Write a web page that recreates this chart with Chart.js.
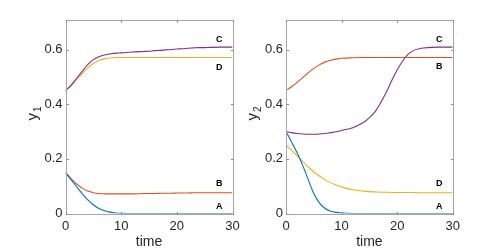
<!DOCTYPE html>
<html><head><meta charset="utf-8">
<script src="https://cdn.jsdelivr.net/npm/chart.js@4.4.0/dist/chart.umd.min.js"></script>
<style>
html,body{margin:0;padding:0;background:#fff;width:500px;height:250px;overflow:hidden}
.wrap{position:absolute;left:0;top:0;width:500px;height:250px}
</style></head>
<body>
<div class="wrap"><canvas id="c1"></canvas></div>
<div class="wrap"><canvas id="c2"></canvas></div>
<script>
// ---- data ----
const time = [0,1,2,3,4,5,6,7,8,9,10,12,14,15,16,17,18,19,20,21,22,23,24,25,26,28,30];

// panel 1 (y1)
const y1A = [0.15,0.124,0.098,0.073,0.05,0.032,0.018,0.01,0.005,0.002,0.001,0,0,0,0,0,0,0,0,0,0,0,0,0,0,0,0];
const y1B = [0.15,0.128,0.108,0.093,0.082,0.076,0.073,0.072,0.072,0.072,0.072,0.072,0.073,0.073,0.073,0.074,0.074,0.074,0.075,0.075,0.075,0.076,0.076,0.076,0.076,0.076,0.076];
const y1C = [0.45,0.47,0.495,0.52,0.545,0.563,0.574,0.58,0.584,0.587,0.588,0.591,0.593,0.594,0.596,0.597,0.599,0.6,0.602,0.603,0.605,0.606,0.607,0.607,0.608,0.609,0.609];
const y1D = [0.45,0.467,0.49,0.512,0.532,0.549,0.56,0.566,0.569,0.571,0.571,0.571,0.571,0.571,0.571,0.571,0.571,0.571,0.571,0.571,0.571,0.571,0.571,0.571,0.571,0.571,0.571];

// panel 2 (y2)
const y2A = [0.3,0.262,0.222,0.176,0.124,0.073,0.039,0.019,0.009,0.004,0.002,0,0,0,0,0,0,0,0,0,0,0,0,0,0,0,0];
const y2B = [0.45,0.464,0.48,0.497,0.515,0.531,0.544,0.554,0.561,0.565,0.568,0.57,0.571,0.571,0.571,0.571,0.571,0.571,0.571,0.571,0.571,0.571,0.571,0.571,0.571,0.571,0.571];
const y2C = [0.3,0.296,0.293,0.291,0.29,0.29,0.291,0.293,0.296,0.299,0.304,0.314,0.334,0.35,0.372,0.404,0.442,0.485,0.525,0.558,0.583,0.597,0.603,0.606,0.608,0.609,0.609];
const y2D = [0.25,0.231,0.211,0.19,0.17,0.152,0.137,0.124,0.113,0.104,0.097,0.087,0.082,0.08,0.079,0.078,0.078,0.077,0.077,0.077,0.077,0.077,0.076,0.076,0.076,0.076,0.076];

const seriesNames = ['A','B','C','D'];
const labelX = 27.6;
const labelY1 = [0.026,0.109,0.637,0.536];
const labelY2 = [0.026,0.539,0.637,0.109];

const xTicks = [0,10,20,30];
const yTicks = [0,0.2,0.4,0.6];

const colors = ['#0072BD','#D95319','#7E2F8E','#EDB120'];
const FONT = '"Liberation Sans", Arial, Helvetica, sans-serif';
const TXT = '#262626';

function pts(ys){ return time.map((t,i)=>({x:t,y:ys[i]})); }

function makeChart(id, series, labelYs, sub, padLeft, yWidth, padRight){
  const decor = {
    id:'decor',
    afterDraw(chart){
      const ctx = chart.ctx, a = chart.chartArea;
      const xs = chart.scales.x, ys = chart.scales.y;
      ctx.save();
      ctx.strokeStyle = '#a6a6a6';
      ctx.lineWidth = 1;
      const L = Math.round(a.left)+0.5, R = Math.round(a.right)+0.5, T = Math.round(a.top)+0.5, B = Math.round(a.bottom)+0.5;
      ctx.strokeRect(L, T, R-L, B-T);
      ctx.strokeStyle = '#8c8c8c';
      const tl = 2.5;
      ctx.beginPath();
      xTicks.forEach(v=>{
        const px = Math.round(xs.getPixelForValue(v))+0.5;
        ctx.moveTo(px,B); ctx.lineTo(px,B-tl);
        ctx.moveTo(px,T); ctx.lineTo(px,T+tl);
      });
      yTicks.forEach(v=>{
        const py = Math.round(ys.getPixelForValue(v))+0.5;
        ctx.moveTo(L,py); ctx.lineTo(L+tl,py);
        ctx.moveTo(R,py); ctx.lineTo(R-tl,py);
      });
      ctx.stroke();
      ctx.fillStyle = '#000';
      ctx.font = 'bold 9px ' + FONT;
      ctx.textAlign = 'center';
      ctx.textBaseline = 'middle';
      seriesNames.forEach((n,i)=>{
        ctx.fillText(n, xs.getPixelForValue(labelX), ys.getPixelForValue(labelYs[i]));
      });
      ctx.fillStyle = TXT;
      ctx.font = '14px ' + FONT;
      ctx.textBaseline = 'middle';
      ctx.fillText('time', (a.left+a.right)/2, 242);
      ctx.translate(a.left-33, (a.top+a.bottom)/2 - 3);
      ctx.rotate(-Math.PI/2);
      ctx.font = '15px ' + FONT;
      const wy = ctx.measureText('y').width;
      ctx.font = '10px ' + FONT;
      const ws = ctx.measureText(sub).width;
      const tot = wy + ws + 1;
      ctx.textAlign = 'left';
      ctx.textBaseline = 'alphabetic';
      ctx.font = '15px ' + FONT;
      ctx.fillText('y', -tot/2, 4);
      ctx.font = '10px ' + FONT;
      ctx.fillText(sub, -tot/2 + wy + 1, 8);
      ctx.restore();
    }
  };
  return new Chart(document.getElementById(id), {
    type:'line',
    data:{
      datasets: series.map((s,i)=>({
        label: seriesNames[i],
        data: pts(s),
        borderColor: colors[i],
        backgroundColor: colors[i],
        borderWidth: 1.1,
        pointRadius: 0,
        fill: false,
        tension: 0.4
      }))
    },
    options:{
      responsive:true,
      maintainAspectRatio:false,
      animation:false,
      events:[],
      layout:{padding:{left:padLeft,right:padRight,top:19.5,bottom:0}},
      plugins:{legend:{display:false},tooltip:{enabled:false}},
      scales:{
        x:{
          type:'linear', min:0, max:30,
          grid:{display:false, drawTicks:false},
          border:{display:false},
          ticks:{stepSize:10, padding:5, color:TXT, font:{family:FONT,size:13}, maxRotation:0},
          afterFit(s){ s.height = 36.5; }
        },
        y:{
          type:'linear', min:0, max:0.71,
          grid:{display:false, drawTicks:false},
          border:{display:false},
          ticks:{stepSize:0.2, includeBounds:false, padding:3, color:TXT, font:{family:FONT,size:13},
            callback:(v)=> yTicks.some(t=>Math.abs(t-v)<1e-9) ? String(Math.round(v*10)/10) : null},
          afterFit(s){ s.width = yWidth; }
        }
      }
    },
    plugins:[decor]
  });
}

makeChart('c1', [y1A,y1B,y1C,y1D], labelY1, '1', 0, 65.5, 267.5);
makeChart('c2', [y2A,y2B,y2C,y2D], labelY2, '2', 220, 66, 47.3);
</script>
</body></html>
